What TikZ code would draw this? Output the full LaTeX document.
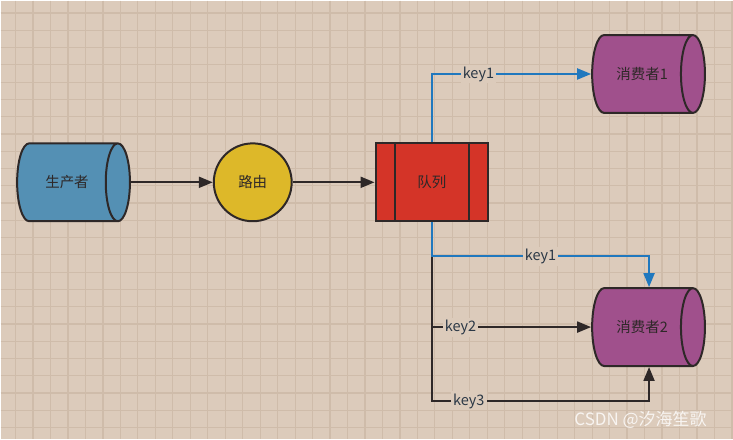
\documentclass[tikz,border=0pt]{standalone}
\usepackage{fontspec}
\setmainfont{Noto Sans CJK SC}
\usetikzlibrary{shapes.geometric}
\usetikzlibrary{arrows.meta}
\usetikzlibrary{positioning}

\definecolor{canvas}{HTML}{DCCBBB}
\definecolor{gridline}{HTML}{CFBCAA}
\definecolor{edge}{HTML}{2E2828}
\definecolor{prodblue}{HTML}{5490B4}
\definecolor{routeyellow}{HTML}{DDB829}
\definecolor{queuered}{HTML}{D43428}
\definecolor{consumerpurple}{HTML}{A0508C}
\definecolor{keyblue}{HTML}{2078BE}

\begin{document}
\begin{tikzpicture}[x=1pt, y=-1pt]
        \tikzset{
          >={Triangle[length=14pt, width=11pt]},
          node distance=82pt,
          every node/.style={font=\fontsize{14.5pt}{17pt}\selectfont, text=edge},
          box/.style={draw=edge, line width=2pt, inner sep=0pt},
          store/.style={box, cylinder, shape border rotate=0, aspect=1.8,
            minimum height=113pt, minimum width=78pt},
          link/.style={->, line width=2pt, draw=edge},
          bluelink/.style={link, draw=keyblue},
          keylabel/.style={fill=canvas, inner sep=2pt, text=edge!80!keyblue},
        }
        % canvas and grid
        \fill[canvas] (0,0) rectangle (733,439);
        \foreach \x in {15,32.5,...,733}
          \draw[gridline, line width=1.2pt] (\x,0) -- (\x,439);
        \foreach \y in {12.5,29.8,...,439}
          \draw[gridline, line width=1.2pt] (0,\y) -- (733,\y);

        \node[store, fill=prodblue] (prod) at (66.5,182) {生产者};
        \node[box, circle, fill=routeyellow, minimum size=78pt, right=of prod] (route) {路由};
        \node[box, rectangle, fill=queuered, minimum width=113pt, minimum height=78pt,
          right=of route,
          path picture={
            \draw[edge, line width=2pt]
              ([xshift=19pt]path picture bounding box.north west) -- ([xshift=19pt]path picture bounding box.south west)
              ([xshift=-19pt]path picture bounding box.north east) -- ([xshift=-19pt]path picture bounding box.south east);
          }] (queue) {队列};
        \node[store, fill=consumerpurple] (cons1) at (642.5,73.5) {消费者1};
        \node[store, fill=consumerpurple] (cons2) at (642.5,327) {消费者2};

        \draw[link] (prod) -- (route);
        \draw[link] (route) -- (queue);

        \draw[link] (queue.south) |- (cons2.west) node[keylabel, pos=0.59] {key2};
        \draw[link] (queue.south) -- ++(0,179) -| ([xshift=7pt]cons2.south) node[keylabel, pos=0.085] {key3};
        \draw[bluelink] (queue.north) |- (cons1.west) node[keylabel, pos=0.646] {key1};
        \draw[bluelink] (queue.south) -- ++(0,34) -| ([xshift=7pt]cons2.north) node[keylabel, pos=0.25] {key1};

        \node[text=white, opacity=0.8, font=\fontsize{17pt}{20pt}\selectfont] (mark) at (641,420) {CSDN @汐海笙歌};
      \end{tikzpicture}
\end{document}
